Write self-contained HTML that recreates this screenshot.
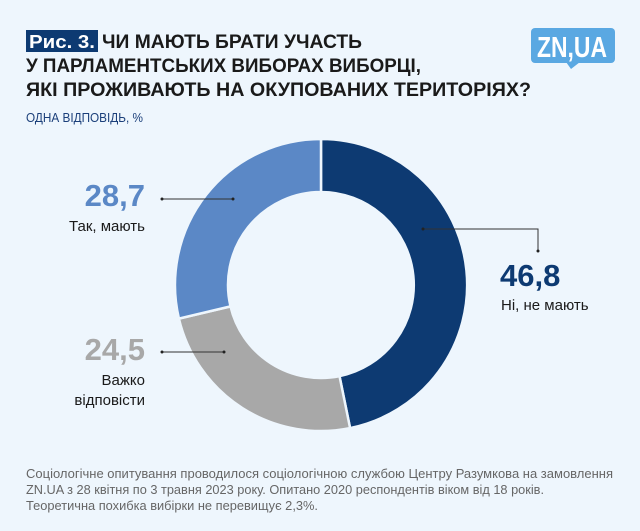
<!DOCTYPE html>
<html><head><meta charset="utf-8"><style>
html,body{margin:0;padding:0;background:#eef6fd;}
svg{display:block;font-family:"Liberation Sans",sans-serif;}
</style></head><body>
<svg width="640" height="531" viewBox="0 0 640 531" xmlns="http://www.w3.org/2000/svg">
<rect width="640" height="531" fill="#eef6fd"/>
<rect x="26" y="30" width="72" height="22" fill="#0d3a72"/>
<text x="29" y="48" font-size="18" font-weight="bold" fill="#fff" textLength="66" lengthAdjust="spacingAndGlyphs">Рис. 3.</text>
<text x="102" y="48" font-size="19" font-weight="bold" fill="#1a1a1a" textLength="260" lengthAdjust="spacingAndGlyphs">ЧИ МАЮТЬ БРАТИ УЧАСТЬ</text>
<text x="26" y="72" font-size="19" font-weight="bold" fill="#1a1a1a" textLength="395" lengthAdjust="spacingAndGlyphs">У ПАРЛАМЕНТСЬКИХ ВИБОРАХ ВИБОРЦІ,</text>
<text x="26" y="96" font-size="19" font-weight="bold" fill="#1a1a1a" textLength="505" lengthAdjust="spacingAndGlyphs">ЯКІ ПРОЖИВАЮТЬ НА ОКУПОВАНИХ ТЕРИТОРІЯХ?</text>
<text x="26" y="122" font-size="13" fill="#1b3f7a" textLength="117" lengthAdjust="spacingAndGlyphs">ОДНА ВІДПОВІДЬ, %</text>
<rect x="531" y="28" width="84" height="35" rx="4" fill="#5aa8e2"/>
<polygon points="566,62 580,62 571,69" fill="#5aa8e2"/>
<text x="537" y="57" font-size="29" font-weight="bold" fill="#fff" textLength="70" lengthAdjust="spacingAndGlyphs">ZN,UA</text>
<g stroke="#eef6fd" stroke-width="2.5">
<path d="M321,139 A146,146 0 0 1 350.1,428.1 L339.5,376.1 A93,93 0 0 0 321,192 Z" fill="#0d3a72"/>
<path d="M350.1,428.1 A146,146 0 0 1 178.9,318.6 L230.5,306.4 A93,93 0 0 0 339.5,376.1 Z" fill="#a8a8a8"/>
<path d="M178.9,318.6 A146,146 0 0 1 321,139 L321,192 A93,93 0 0 0 230.5,306.4 Z" fill="#5b88c6"/>
</g>
<g stroke="#333" stroke-width="1" fill="none">
<line x1="162" y1="199" x2="233" y2="199"/>
<line x1="162" y1="352" x2="224" y2="352"/>
<polyline points="423,229 538,229 538,251"/>
</g>
<g fill="#222">
<circle cx="162" cy="199" r="1.5"/><circle cx="233" cy="199" r="1.5"/>
<circle cx="162" cy="352" r="1.5"/><circle cx="224" cy="352" r="1.5"/>
<circle cx="423" cy="229" r="1.5"/><circle cx="538" cy="251" r="1.5"/>
</g>
<text x="145" y="206" font-size="31" font-weight="bold" fill="#5b88c6" text-anchor="end">28,7</text>
<text x="145" y="231" font-size="15" fill="#1a1a1a" text-anchor="end">Так,  мають</text>
<text x="145" y="360" font-size="31" font-weight="bold" fill="#a8a8a8" text-anchor="end">24,5</text>
<text x="145" y="385" font-size="15" fill="#1a1a1a" text-anchor="end">Важко</text>
<text x="145" y="405" font-size="15" fill="#1a1a1a" text-anchor="end">відповісти</text>
<text x="500" y="286" font-size="31" font-weight="bold" fill="#0d3a72">46,8</text>
<text x="501" y="310" font-size="15" fill="#1a1a1a">Ні, не мають</text>
<g font-size="13" fill="#666">
<text x="26" y="478" textLength="587" lengthAdjust="spacingAndGlyphs">Соціологічне опитування проводилося соціологічною  службою Центру Разумкова на замовлення</text>
<text x="26" y="494" textLength="518" lengthAdjust="spacingAndGlyphs">ZN.UA з 28 квітня по 3 травня 2023 року. Опитано 2020 респондентів віком від 18 років.</text>
<text x="26" y="510" textLength="292" lengthAdjust="spacingAndGlyphs">Теоретична похибка вибірки не перевищує 2,3%.</text>
</g>
</svg>
</body></html>
